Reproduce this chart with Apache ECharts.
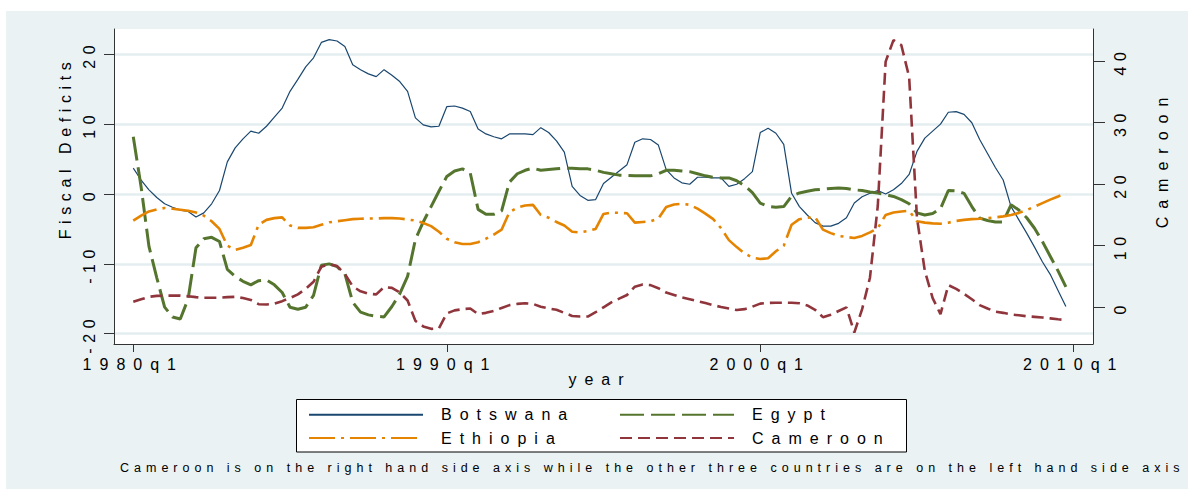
<!DOCTYPE html>
<html>
<head>
<meta charset="utf-8">
<title>Fiscal Deficits</title>
<script src="https://cdn.jsdelivr.net/npm/echarts@6/dist/echarts.min.js"></script>
<style>
  html, body { margin: 0; padding: 0; background: #ffffff; }
  #chart { width: 1188px; height: 489px; }
  #chart svg text { letter-spacing: 0.5em; }
</style>
</head>
<body>
<div id="chart"></div>
<script>
// Quarterly series, 1980q1 .. 2009q4 (index 0 = 1980q1)
const startYear = 1980;

const botswana = [
  3.7, 2.0, 0.6, -0.5, -1.4, -1.9, -2.3, -2.5, -3.3, -2.7,
  -1.4, 0.5, 4.6, 6.6, 7.9, 9.0, 8.7, 9.7, 11.0, 12.3,
  14.7, 16.4, 18.2, 19.5, 21.7, 22.1, 21.9, 21.1, 18.5, 17.8,
  17.2, 16.8, 17.8, 17.0, 16.1, 14.7, 10.9, 9.9, 9.6, 9.7,
  12.5, 12.6, 12.3, 11.8, 9.3, 8.6, 8.2, 7.9, 8.6, 8.6,
  8.6, 8.5, 9.5, 8.8, 7.6, 6.0, 1.1, -0.2, -0.9, -0.8,
  1.5, 2.4, 3.3, 4.2, 7.4, 7.9, 7.8, 7.0, 3.5, 2.3,
  1.6, 1.4, 2.4, 2.4, 2.3, 2.3, 1.1, 1.4, 2.2, 3.2,
  8.8, 9.4, 8.7, 7.1, 0.1, -1.8, -3.0, -4.1, -4.6, -4.6,
  -4.2, -3.4, -1.3, -0.4, 0.1, 0.5, 0.0, 0.6, 1.5, 2.8,
  6.1, 8.0, 9.0, 10.0, 11.7, 11.8, 11.4, 10.2, 7.8, 5.8,
  3.8, 2.0, -1.8, -3.7, -5.6, -7.6, -9.7, -11.5, -13.8, -16.1
];

const egypt = [
  8.2, 1.0, -7.5, -12.0, -16.2, -17.6, -17.9, -15.0, -7.7, -6.4,
  -6.2, -6.8, -10.8, -11.8, -12.5, -13.0, -12.4, -12.3, -13.0, -14.1,
  -16.2, -16.5, -16.2, -14.5, -10.2, -10.0, -10.4, -11.4, -15.5, -16.9,
  -17.3, -17.5, -17.6, -16.1, -14.3, -11.8, -6.5, -4.0, -1.8, 0.4,
  2.5, 3.3, 3.6, 3.0, -2.2, -2.9, -2.9, -2.4, 1.7, 2.9,
  3.4, 3.7, 3.4, 3.5, 3.6, 3.7, 3.7, 3.6, 3.6, 3.4,
  3.1, 2.9, 2.7, 2.65, 2.6, 2.6, 2.6, 2.9, 3.4, 3.4,
  3.3, 3.2, 2.9, 2.6, 2.4, 2.3, 2.3, 1.9, 1.2, 0.2,
  -1.3, -1.8, -1.9, -1.8, -0.3, 0.15, 0.4, 0.6, 0.7, 0.8,
  0.85, 0.8, 0.6, 0.5, 0.3, 0.15, -0.1, -0.35, -0.8, -1.4,
  -2.7, -3.0, -2.8, -2.1, 0.5, 0.45, 0.1, -1.8, -3.45, -3.8,
  -4.0, -4.0, -1.55, -2.3, -3.4, -4.9, -6.8, -8.9, -11.0, -13.3
];

const ethiopia = [
  -3.8, -3.1, -2.5, -2.2, -2.0, -2.1, -2.25, -2.4, -2.65, -3.1,
  -3.9, -5.0, -7.4, -8.0, -7.7, -7.3, -4.4, -3.7, -3.45, -3.35,
  -4.5, -4.85, -4.85, -4.75, -4.4, -4.05, -3.9, -3.75, -3.6, -3.55,
  -3.5, -3.5, -3.45, -3.45, -3.5, -3.65, -3.8, -4.15, -4.6, -5.4,
  -6.4, -6.9, -7.15, -7.15, -6.9, -6.4, -5.8, -5.1, -2.6, -1.95,
  -1.65, -1.55, -3.0, -3.4, -4.0, -4.5, -5.4, -5.5, -5.3, -5.0,
  -2.85, -2.65, -2.7, -2.75, -4.1, -4.0, -3.9, -3.5, -1.85, -1.5,
  -1.4, -1.55, -2.1, -2.8, -3.6, -4.9, -6.6, -7.6, -8.5, -9.1,
  -9.3, -9.2, -8.2, -7.4, -4.4, -3.6, -3.4, -3.3, -5.1, -5.6,
  -6.0, -6.15, -6.3, -6.0, -5.5, -4.9, -3.0, -2.65, -2.5, -2.4,
  -3.9, -4.1, -4.2, -4.25, -4.1, -3.85, -3.7, -3.6, -3.55, -3.45,
  -3.35, -3.2, -3.0, -2.7, -2.3, -1.8, -1.3, -0.8, -0.35, 0.15
];

// Cameroon is read against the right-hand axis
const cameroon = [
  0.9, 1.3, 1.7, 1.85, 1.9, 1.9, 1.9, 1.8, 1.65, 1.55,
  1.55, 1.55, 1.65, 1.7, 1.5, 1.2, 0.5, 0.45, 0.6, 1.0,
  1.5, 2.1, 3.0, 4.15, 6.6, 7.0, 6.7, 5.4, 3.4, 2.6,
  2.2, 2.1, 3.3, 3.15, 2.4, 1.1, -2.2, -3.1, -3.5, -3.4,
  -1.0, -0.5, -0.3, -0.2, -1.1, -0.9, -0.6, -0.1, 0.35, 0.55,
  0.65, 0.55, 0.1, -0.2, -0.4, -0.9, -1.4, -1.5, -1.5, -0.8,
  0.0, 0.8, 1.4, 2.0, 3.35, 3.7, 3.6, 3.1, 2.4, 2.0,
  1.6, 1.3, 1.0, 0.7, 0.35, 0.05, -0.2, -0.45, -0.3, 0.1,
  0.6, 0.7, 0.75, 0.75, 0.75, 0.65, 0.3, -0.4, -1.6, -1.2,
  -0.6, 0.0, -4.1, -0.3, 4.8, 16.5, 39.9, 43.4, 42.6, 37.4,
  14.5, 5.9, 1.5, -1.1, 3.6, 3.0, 2.2, 1.3, 0.35, -0.2,
  -0.7, -0.9, -1.15, -1.3, -1.45, -1.55, -1.65, -1.8, -1.95, -2.05
];

const seriesNames = ['Botswana', 'Egypt', 'Ethiopia', 'Cameroon'];

const xTickValues = [0, 40, 80, 120];
const xTickLabels = ['1980q1', '1990q1', '2000q1', '2010q1'];
const leftTickValues = [-20, -10, 0, 10, 20];
const rightTickValues = [0, 10, 20, 30, 40];

const leftTitle = 'Fiscal Deficits';
const rightTitle = 'Cameroon';
const xTitle = 'year';
const noteText = 'Cameroon is on the right hand side axis while the other three countries are on the left hand side axis';

const FONT = '"Liberation Sans", Arial, sans-serif';
const AXIS_COLOR = '#333333';

function toPoints(values) {
  return values.map((v, i) => [i, v]);
}

const chart = echarts.init(document.getElementById('chart'), null, { renderer: 'svg' });

const option = {
  animation: false,
  backgroundColor: '#ffffff',
  textStyle: { fontFamily: FONT },
  grid: {
    left: 114, right: 95, top: 29, bottom: 145,
    show: true, backgroundColor: '#ffffff', borderWidth: 0,
    containLabel: false, outerBoundsMode: 'none'
  },
  xAxis: {
    type: 'value',
    min: -2.46, max: 122.46,
    axisLine: { show: true, onZero: false, lineStyle: { color: AXIS_COLOR, width: 1 } },
    axisTick: { show: true, length: 8, customValues: xTickValues, lineStyle: { color: AXIS_COLOR, width: 1 } },
    axisLabel: {
      customValues: xTickValues, margin: 12, fontSize: 16, color: '#000', fontFamily: FONT,
      formatter: v => xTickLabels[xTickValues.indexOf(v)] || ''
    },
    splitLine: { show: false }
  },
  yAxis: [
    {
      type: 'value', position: 'left',
      min: -21.47, max: 23.62,
      axisLine: { show: true, onZero: false, lineStyle: { color: AXIS_COLOR, width: 1 } },
      axisTick: { show: true, length: 10, customValues: leftTickValues, lineStyle: { color: AXIS_COLOR, width: 1 } },
      axisLabel: {
        customValues: leftTickValues, rotate: 90, margin: 17, fontSize: 16, color: '#000', fontFamily: FONT,
        formatter: v => String(Math.round(v))
      },
      splitLine: { show: true, lineStyle: { color: '#E4EEF1', width: 2.5 } }
    },
    {
      type: 'value', position: 'right',
      min: -5.96, max: 45.2,
      axisLine: { show: true, onZero: false, lineStyle: { color: AXIS_COLOR, width: 1 } },
      axisTick: { show: true, length: 12, customValues: rightTickValues, lineStyle: { color: AXIS_COLOR, width: 1 } },
      axisLabel: {
        customValues: rightTickValues, rotate: 90, margin: 19, fontSize: 16, color: '#000', fontFamily: FONT,
        formatter: v => String(Math.round(v))
      },
      splitLine: { show: false }
    }
  ],
  legend: {
    data: seriesNames,
    left: 308, top: 405.7, width: 620,
    padding: 0, itemGap: 5.3,
    itemWidth: 114, itemHeight: 14,
    selectedMode: false,
    // line-only keys: the marker symbol is hidden
    itemStyle: { color: 'rgba(0,0,0,0)', borderWidth: 0, opacity: 0 },
    textStyle: {
      fontSize: 16, color: '#000', fontFamily: FONT,
      lineHeight: 18, width: 172.7, padding: [0, 0, 0, 13]
    }
  },
  graphic: [
    {
      type: 'rect', z: -100, silent: true,
      shape: { x: 6, y: 11, width: 1182, height: 478 },
      style: { fill: '#EAF2F3' }
    },
    {
      type: 'rect', z: 1, silent: true,
      shape: { x: 296.5, y: 399.5, width: 610, height: 52.5 },
      style: { fill: '#ffffff', stroke: '#000000', lineWidth: 1 }
    },
    {
      type: 'text', x: 65, y: 148, rotation: Math.PI / 2, silent: true,
      style: { text: leftTitle, fontSize: 16, fontFamily: FONT, fill: '#000', align: 'center', verticalAlign: 'middle' }
    },
    {
      type: 'text', x: 1162.5, y: 159, rotation: Math.PI / 2, silent: true,
      style: { text: rightTitle, fontSize: 16, fontFamily: FONT, fill: '#000', align: 'center', verticalAlign: 'middle' }
    },
    {
      type: 'text', x: 600, y: 379.5, silent: true,
      style: { text: xTitle, fontSize: 16, fontFamily: FONT, fill: '#000', align: 'center', verticalAlign: 'middle' }
    },
    {
      type: 'text', x: 120, y: 468.4, silent: true,
      style: { text: noteText, fontSize: 12.5, fontFamily: FONT, fill: '#000', align: 'left', verticalAlign: 'middle' }
    }
  ],
  series: [
    {
      name: 'Botswana', type: 'line', data: toPoints(botswana),
      symbol: 'none', showSymbol: false, z: 2,
      itemStyle: { color: '#1A476F' },
      lineStyle: { color: '#1A476F', width: 1.2 }
    },
    {
      name: 'Egypt', type: 'line', data: toPoints(egypt),
      symbol: 'none', showSymbol: false, z: 3,
      itemStyle: { color: '#55752F' },
      lineStyle: { color: '#55752F', width: 3, type: [24, 7] }
    },
    {
      name: 'Ethiopia', type: 'line', data: toPoints(ethiopia),
      symbol: 'none', showSymbol: false, z: 4,
      itemStyle: { color: '#E58400' },
      lineStyle: { color: '#E58400', width: 2.6, type: [26, 6, 3, 6] }
    },
    {
      name: 'Cameroon', type: 'line', yAxisIndex: 1, data: toPoints(cameroon),
      symbol: 'none', showSymbol: false, z: 5,
      itemStyle: { color: '#90353B' },
      lineStyle: { color: '#90353B', width: 2.6, type: [12, 6] }
    }
  ]
};

chart.setOption(option);

// Wide letter spacing of the printed labels; numeric and left-title text is set a little tighter
function applyLetterSpacing() {
  const tight = new Set([leftTitle].concat(leftTickValues.map(String), rightTickValues.map(String)));
  document.querySelectorAll('#chart svg text').forEach(el => {
    const t = el.textContent;
    let s = '0.5em';
    if (tight.has(t)) s = '0.35em';
    else if (t === noteText) s = '0.4em';
    el.style.letterSpacing = s;
  });
}
chart.on('finished', applyLetterSpacing);
setTimeout(applyLetterSpacing, 30);
</script>
</body>
</html>
